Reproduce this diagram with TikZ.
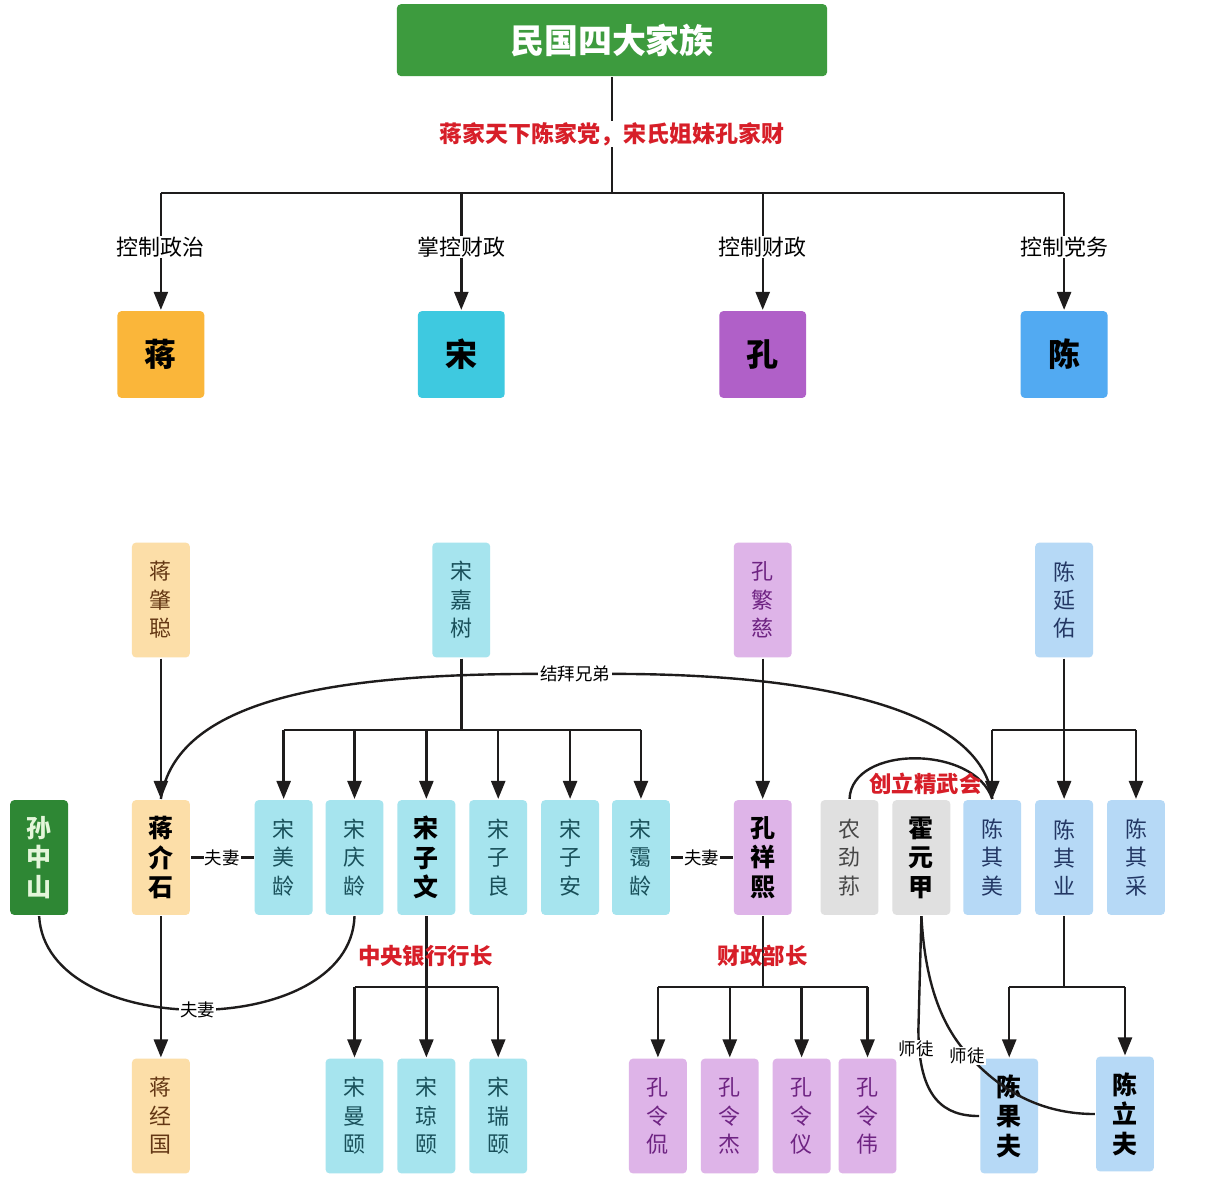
\documentclass[tikz,border=0pt]{standalone}
\usepackage{fontspec}
\setmainfont{Noto Sans CJK SC}
\usetikzlibrary{arrows.meta}

\definecolor{titlegreen}{RGB}{61,155,62}
\definecolor{sungreen}{RGB}{46,135,52}
\definecolor{jiangorange}{RGB}{250,182,58}
\definecolor{songcyan}{RGB}{62,201,224}
\definecolor{kongpurple}{RGB}{176,96,200}
\definecolor{chenblue}{RGB}{82,170,242}
\definecolor{jianglight}{RGB}{252,222,168}
\definecolor{songlight}{RGB}{166,228,238}
\definecolor{konglight}{RGB}{222,180,232}
\definecolor{chenlight}{RGB}{182,217,246}
\definecolor{graybox}{RGB}{224,224,224}
\definecolor{labelred}{RGB}{215,30,40}
\definecolor{jiangtext}{RGB}{100,55,20}
\definecolor{songtext}{RGB}{25,80,90}
\definecolor{kongtext}{RGB}{110,35,130}
\definecolor{chentext}{RGB}{35,55,100}
\definecolor{graytext}{RGB}{70,70,70}
\definecolor{linecol}{RGB}{30,28,28}

\begin{document}
\begin{tikzpicture}[x=1pt,y=-1pt]
\tikzstyle{every node}=[font=\fontsize{22}{26}\selectfont]
\tikzstyle{every path}=[line width=2.4pt, draw=linecol]
\tikzstyle{box}=[rounded corners=4pt, inner sep=0pt, align=center, draw=none]
\tikzstyle{fam}=[box, minimum width=87pt, minimum height=87pt, font=\fontsize{32}{32}\selectfont\bfseries]
\tikzstyle{person}=[box, minimum width=58pt, minimum height=115pt, font=\fontsize{22}{28.5}\selectfont]
\tikzstyle{boss}=[person, text=black, font=\fontsize{25}{29.5}\selectfont\bfseries]
\tikzstyle{jperson}=[person, fill=jianglight, text=jiangtext]
\tikzstyle{sperson}=[person, fill=songlight, text=songtext]
\tikzstyle{kperson}=[person, fill=konglight, text=kongtext]
\tikzstyle{cperson}=[person, fill=chenlight, text=chentext]
\tikzstyle{gperson}=[person, fill=graybox, text=graytext]
\tikzstyle{arr}=[-{Triangle[length=18pt,width=14pt]}]
\tikzstyle{lbl}=[fill=white, inner sep=1pt]
\tikzstyle{small}=[lbl, font=\fontsize{17.5}{20}\selectfont]
\tikzstyle{redlbl}=[text=labelred, font=\fontsize{22.5}{26}\selectfont\bfseries]

% white background, fixes the size
\fill[white] (0,0) rectangle (1226,1192);

% title and the four families
\node[box, fill=titlegreen, text=white, minimum width=431pt, minimum height=72pt,
  font=\fontsize{34}{34}\selectfont\bfseries] (title) at (612,39) {民国四大家族};
\node[fam, fill=jiangorange] (jiang) at (160,354) {蒋};
\node[fam, fill=songcyan] (song) at (461,354) {宋};
\node[fam, fill=kongpurple] (kong) at (763,354) {孔};
\node[fam, fill=chenblue] (chen) at (1065,354) {陈};

\coordinate (hub) at (612,192);
\draw (title) -- (hub) node[lbl, redlbl, pos=0.49, font=\fontsize{23}{26}\selectfont\bfseries] (motto) {蒋家天下陈家党，宋氏姐妹孔家财};
\draw (jiang |- hub) -- (chen |- hub);
\foreach \n/\t in {jiang/控制政治, song/掌控财政, kong/控制财政, chen/控制党务}
	\draw[arr] (\n |- hub) -- (\n) node[lbl, pos=0.46] {\t};

% fathers
\node[jperson] (zhaocong) at (160,600) {蒋\\肇\\聪};
\node[sperson] (jiashu) at (461,600) {宋\\嘉\\树};
\node[kperson] (fanci) at (763,600) {孔\\繁\\慈};
\node[cperson] (yanyou) at (1065,600) {陈\\延\\佑};

% second row
\node[boss, fill=sungreen, text={rgb,255:red,228;green,246;blue,218}] (sun) at (38,858) {孙\\中\\山};
\node[boss, fill=jianglight] (jieshi) at (160,858) {蒋\\介\\石};
\foreach \n/\x/\t in {meiling/283/{宋\\美\\龄}, qingling/354/{宋\\庆\\龄},
	ziliang/498/{宋\\子\\良}, zian/570/{宋\\子\\安}, ailing/641/{宋\\霭\\龄}}
	\node[sperson] (\n) at (\x,858) {\t};
\node[boss, fill=songlight] (ziwen) at (426,858) {宋\\子\\文};
\node[boss, fill=konglight] (xiangxi) at (763,858) {孔\\祥\\熙};
\node[gperson] (nong) at (850,858) {农\\劲\\荪};
\node[boss, fill=graybox] (huo) at (922,858) {霍\\元\\甲};
\foreach \n/\x/\t in {qimei/993/{陈\\其\\美}, qiye/1065/{陈\\其\\业}, qicai/1137/{陈\\其\\采}}
	\node[cperson] (\n) at (\x,858) {\t};

% third row
\node[jperson] (jingguo) at (160,1117) {蒋\\经\\国};
\foreach \n/\x/\t in {manyi/354/{宋\\曼\\颐}, qiongyi/426/{宋\\琼\\颐}, ruiyi/498/{宋\\瑞\\颐}}
	\node[sperson] (\n) at (\x,1117) {\t};
\foreach \n/\x/\t in {lingkan/658/{孔\\令\\侃}, lingjie/730/{孔\\令\\杰}, lingyi/802/{孔\\令\\仪}, lingwei/868/{孔\\令\\伟}}
	\node[kperson] (\n) at (\x,1117) {\t};
\node[boss, fill=chenlight] (guofu) at (1010,1117) {陈\\果\\夫};
\node[boss, fill=chenlight] (lifu) at (1126,1115) {陈\\立\\夫};

% father to children
\draw[arr] (zhaocong) -- (jieshi);
\draw[arr] (jieshi) -- (jingguo);
\draw[arr] (fanci) -- (xiangxi);

\coordinate (sbar) at (461,730);
\draw (jiashu) -- (sbar);
\draw (meiling |- sbar) -- (ailing |- sbar);
\foreach \c in {meiling,qingling,ziwen,ziliang,zian,ailing}
	\draw[arr] (\c |- sbar) -- (\c);

\coordinate (cbar) at (1065,730);
\draw (yanyou) -- (cbar);
\draw (qimei |- cbar) -- (qicai |- cbar);
\foreach \c in {qimei,qiye,qicai}
	\draw[arr] (\c |- cbar) -- (\c);

% grandchildren
\coordinate (zbar) at (426,988);
\draw[arr] (ziwen) -- (qiongyi);
\draw (manyi |- zbar) -- (ruiyi |- zbar);
\foreach \c in {manyi,ruiyi}
	\draw[arr] (\c |- zbar) -- (\c);
\node[redlbl] (bank) at (425,957) {中央银行行长};

\coordinate (kbar) at (763,988);
\draw (xiangxi) -- (kbar);
\draw (lingkan |- kbar) -- (lingwei |- kbar);
\foreach \c in {lingkan,lingjie,lingyi,lingwei}
	\draw[arr] (\c |- kbar) -- (\c);
\node[redlbl] (finance) at (763,957) {财政部长};

\coordinate (qbar) at (1065,988);
\draw (qiye) -- (qbar);
\draw (guofu |- qbar) -- (lifu |- qbar);
\foreach \c in {guofu,lifu}
	\draw[arr] (\c |- qbar) -- (\c.north);

% marriages
\draw (jieshi) -- (meiling) node[small, midway] (fq1) {夫妻};
\draw (ailing) -- (xiangxi) node[small, midway] (fq2) {夫妻};
\draw (sun.south) .. controls (45,1042) and (350,1042) .. (qingling.south)
	node[small, pos=0.5] (fq3) {夫妻};

% sworn brothers
\node[small] (bro) at (575,674) {结拜兄弟};
\draw (jieshi.north) .. controls (175,700) and (330,674) .. (bro.west);
\draw (bro.east) .. controls (850,674) and (985,720) .. (qimei.north);

% jingwu
\draw (nong.north) .. controls (852,745) and (975,745) .. (qimei.north);
\node[redlbl] (jingwu) at (926,784) {创立精武会};

% master and pupils
\draw (huo.south) -- (919,1030) .. controls (919,1100) and (945,1117) .. (guofu.west);
\draw (huo.south) .. controls (926,990) and (945,1030) .. (970,1057)
	.. controls (1000,1090) and (1040,1115) .. (lifu.west);
\node[small] (st1) at (917,1050) {师徒};
\node[small] (st2) at (968,1057) {师徒};

\end{tikzpicture}
\end{document}
